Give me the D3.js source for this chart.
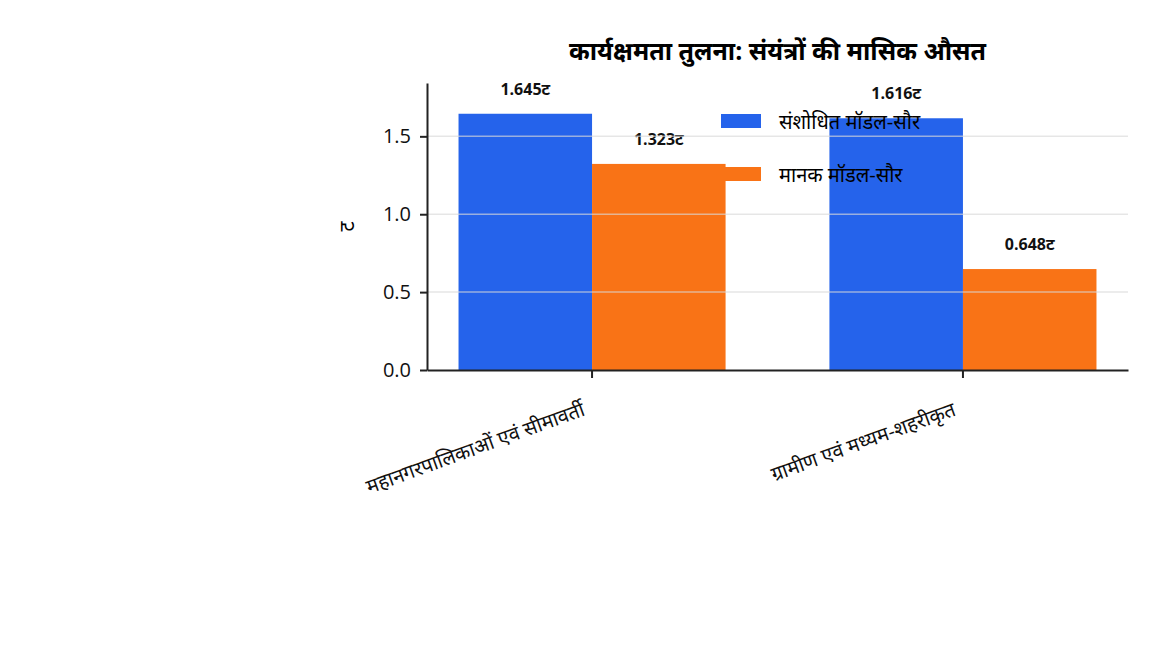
<!DOCTYPE html>
<html>
<head>
<meta charset="utf-8">
<script src="https://cdn.jsdelivr.net/npm/d3@7"></script>
<style>
  body { margin: 0; background: #fff; }
  svg { font-family: "Open Sans", "Noto Sans", sans-serif; }
</style>
</head>
<body>
<svg id="chart" width="1152" height="672"></svg>
<script>
// chart data
var titleText = "कार्यक्षमता तुलना: संयंत्रों की मासिक औसत";
var yLabel = "ट";
var unit = "ट";
var categories = ["महानगरपालिकाओं एवं सीमावर्ती", "ग्रामीण एवं मध्यम-शहरीकृत"];
var seriesNames = ["संशोधित मॉडल-सौर", "मानक मॉडल-सौर"];
var seriesA = [1.645, 1.616];
var seriesB = [1.323, 0.648];
var colors = ["#2563eb", "#f97316"];
var yTicks = [0, 0.5, 1.0, 1.5];

var margin = {top: 83, right: 24, bottom: 302, left: 427},
    width = 1152 - margin.left - margin.right,
    height = 672 - margin.top - margin.bottom;

var data = categories.map(function(c, i){
  return {cat: c, values: [seriesA[i], seriesB[i]]};
});

var x0 = d3.scaleBand().domain(categories).range([0, width])
           .paddingInner(0.28).paddingOuter(0.085);
var x1 = d3.scaleBand().domain([0, 1]).range([0, x0.bandwidth()]);
var y = d3.scaleLinear()
          .domain([0, d3.max(seriesA.concat(seriesB)) * 1.12])
          .range([height, 0]);

var svg = d3.select("#chart");
var g = svg.append("g")
           .attr("transform", "translate(" + margin.left + "," + margin.top + ")");

// bars
var groups = g.selectAll(".grp")
  .data(data).enter().append("g")
  .attr("transform", function(d){ return "translate(" + x0(d.cat) + ",0)"; });

groups.selectAll("rect")
  .data(function(d){ return d.values; })
  .enter().append("rect")
  .attr("x", function(d, i){ return x1(i); })
  .attr("y", function(d){ return y(d); })
  .attr("width", x1.bandwidth())
  .attr("height", function(d){ return height - y(d); })
  .attr("fill", function(d, i){ return colors[i]; });

// grid sits over the bars
g.append("g").selectAll("line")
  .data(yTicks.filter(function(t){ return t > 0; }))
  .enter().append("line")
  .attr("x1", 0).attr("x2", width)
  .attr("y1", function(d){ return y(d); })
  .attr("y2", function(d){ return y(d); })
  .attr("stroke", "#d9d9d9").attr("stroke-opacity", 0.65)
  .attr("stroke-width", 1.5);

// value labels
groups.selectAll(".val")
  .data(function(d){ return d.values; })
  .enter().append("text")
  .attr("x", function(d, i){ return x1(i) + x1.bandwidth() / 2; })
  .attr("y", function(d){ return y(d) - 19; })
  .attr("text-anchor", "middle")
  .attr("font-size", "16px").attr("font-weight", "bold")
  .attr("fill", "#111")
  .text(function(d){ return d3.format(".3f")(d) + unit; });

// axes
var xAxis = g.append("g")
  .attr("transform", "translate(0," + height + ")")
  .call(d3.axisBottom(x0).tickSize(8).tickSizeOuter(0));
xAxis.selectAll("text")
  .attr("y", 0).attr("dy", 0)
  .attr("text-anchor", "end")
  .attr("font-size", "20px")
  .attr("fill", "#111")
  .attr("transform", "translate(-6,45) rotate(-20)");

var yAxis = g.append("g")
  .call(d3.axisLeft(y).tickValues(yTicks).tickFormat(d3.format(".1f"))
        .tickSize(7).tickPadding(9).tickSizeOuter(0));
yAxis.selectAll("text").attr("font-size", "20px").attr("fill", "#111");

[xAxis, yAxis].forEach(function(a){
  a.select(".domain").attr("stroke", "#222").attr("stroke-width", 2);
  a.selectAll(".tick line").attr("stroke", "#222").attr("stroke-width", 2);
  a.attr("font-family", null);
});

// y label
svg.append("text")
  .attr("transform", "translate(354," + (margin.top + height / 2) + ") rotate(-90)")
  .attr("text-anchor", "middle")
  .attr("font-size", "20px")
  .text(yLabel);

// title
svg.append("text")
  .attr("x", margin.left + width / 2).attr("y", 60)
  .attr("text-anchor", "middle")
  .attr("font-size", "25px").attr("font-weight", "bold")
  .text(titleText);

// legend
var legend = svg.append("g").attr("transform", "translate(721,114)");
var items = legend.selectAll("g").data(seriesNames).enter().append("g")
  .attr("transform", function(d, i){ return "translate(0," + i * 53 + ")"; });
items.append("rect").attr("width", 40).attr("height", 14)
  .attr("fill", function(d, i){ return colors[i]; });
items.append("text").attr("x", 58).attr("y", 8).attr("dy", "0.35em")
  .attr("font-size", "20px").text(function(d){ return d; });
</script>
</body>
</html>
